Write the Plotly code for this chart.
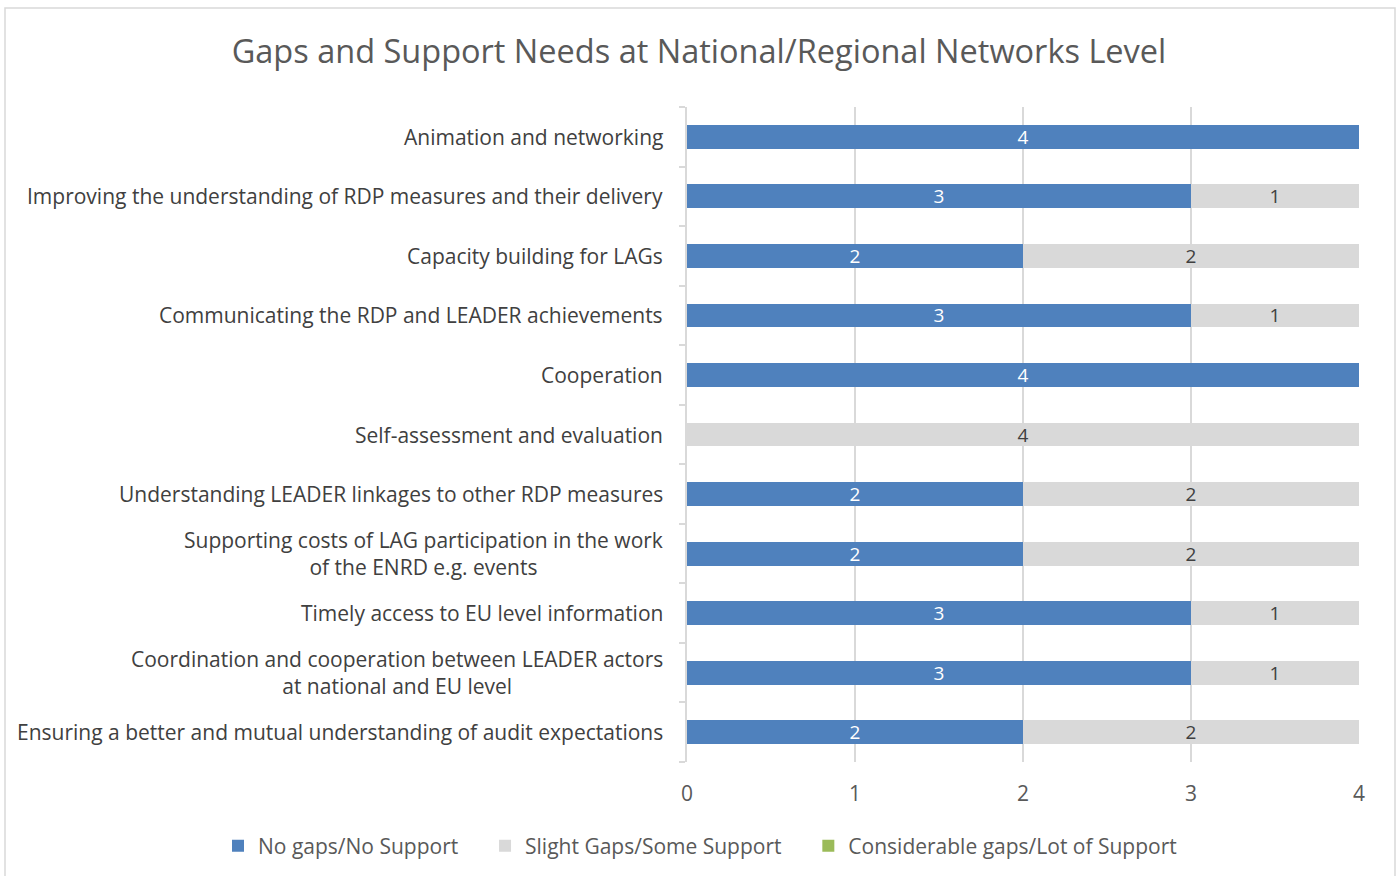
import plotly.graph_objects as go

categories = [
    "Animation and networking",
    "Improving the understanding of RDP measures and their delivery",
    "Capacity building for LAGs",
    "Communicating the RDP and LEADER achievements",
    "Cooperation",
    "Self-assessment and evaluation",
    "Understanding LEADER linkages to other RDP measures",
    "Supporting costs of LAG participation in the work<br>of the ENRD e.g. events",
    "Timely access to EU level information",
    "Coordination and cooperation between LEADER actors<br>at national and EU level",
    "Ensuring a better and mutual understanding of audit expectations",
]
no_gaps = [4, 3, 2, 3, 4, 0, 2, 2, 3, 3, 2]
slight_gaps = [0, 1, 2, 1, 0, 4, 2, 2, 1, 1, 2]
considerable_gaps = [0, 0, 0, 0, 0, 0, 0, 0, 0, 0, 0]
series_names = ["No gaps/No Support", "Slight Gaps/Some Support", "Considerable gaps/Lot of Support"]
x_ticks = [0, 1, 2, 3, 4]

series = [
    (series_names[0], no_gaps, "#4f81bd", "white", 4),
    (series_names[1], slight_gaps, "#d9d9d9", "#404040", 4),
    (series_names[2], considerable_gaps, "#9bbb59", "#404040", 0),
]

FONT = "Open Sans"
ids = list(range(len(categories)))

W, H = 1398, 876
L, R, T, B = 687, 39, 107, 114
pw, ph = W - L - R, H - T - B

fig = go.Figure()
for name, vals, color, tcolor, pad in series:
    fig.add_trace(go.Bar(
        y=ids, x=vals, name=name + "\u00a0" * pad, orientation="h",
        marker=dict(color=color, line=dict(width=0)),
        text=[str(v) if v else "" for v in vals],
        textposition="inside", insidetextanchor="middle", textangle=0,
        textfont=dict(color=tcolor, size=19, family=FONT),
        width=0.4,
    ))

for i, c in enumerate(categories):
    fig.add_annotation(
        x=0, y=i, xref="x", yref="y", xanchor="right", yanchor="middle",
        xshift=-22, text=c, showarrow=False, align="center",
        font=dict(size=21, color="#404040", family=FONT),
    )

fig.update_layout(
    barmode="stack",
    width=W, height=H,
    margin=dict(l=L, r=R, t=T, b=B, autoexpand=False),
    paper_bgcolor="white", plot_bgcolor="white",
    uniformtext=dict(minsize=19, mode="show"),
    title=dict(text="Gaps and Support Needs at National/Regional Networks Level",
               x=0.5, xanchor="center", y=1 - 52 / H, yanchor="middle",
               font=dict(size=32.5, color="#595959", family=FONT)),
    legend=dict(orientation="h", xref="paper", yref="paper",
                x=(218 - L) / pw, xanchor="left", y=-(846 - (H - B)) / ph, yanchor="middle",
                font=dict(size=21, color="#595959", family=FONT),
                bgcolor="rgba(0,0,0,0)",
                traceorder="normal", itemwidth=30),
    font=dict(family=FONT),
    shapes=[dict(type="rect", xref="paper", yref="paper",
                 x0=(5 - L) / pw, x1=(1395 - L) / pw,
                 y0=-(890 - (H - B)) / ph, y1=((H - B) - 8) / ph,
                 line=dict(color="#d9d9d9", width=1.5), fillcolor="rgba(0,0,0,0)", layer="below")],
)
fig.update_xaxes(range=[0, 4], tickvals=x_ticks, showgrid=True, gridcolor="#d9d9d9",
                 gridwidth=1.5, zeroline=False, showline=False,
                 tickfont=dict(size=21, color="#595959", family=FONT), ticks="",
                 ticklabelstandoff=17)
fig.update_yaxes(range=[len(categories) - 0.5, -0.5],
                 tickvals=[i - 0.5 for i in range(len(categories) + 1)],
                 ticktext=[""] * (len(categories) + 1),
                 showline=True, linecolor="#d9d9d9", linewidth=1.5,
                 ticks="outside", ticklen=6, tickcolor="#d9d9d9", tickwidth=1.5,
                 showgrid=False, zeroline=False)

fig.write_html("out.html", config={"displayModeBar": False},
               post_script="document.body.style.margin='0';")
